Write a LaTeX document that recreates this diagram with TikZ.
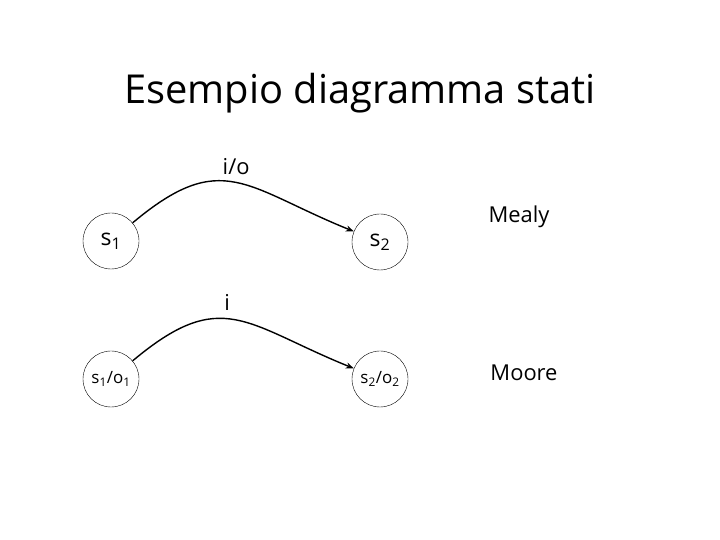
\documentclass[tikz,border=0pt]{standalone}
\usepackage{fontspec}
\setmainfont{Open Sans}
\usetikzlibrary{arrows.meta,positioning}
\tikzset{>=Stealth}

\begin{document}
\begin{tikzpicture}[
    x=1bp, y=1bp,
    state/.style={draw, thin, circle, minimum size=56bp, inner sep=0pt,
                  font=\fontsize{23}{27}\selectfont},
    smallstate/.style={draw, thin, circle, minimum size=56bp, inner sep=0pt,
                       font=\fontsize{17}{20}\selectfont},
    lbl/.style={font=\fontsize{22}{26}\selectfont},
    arr/.style={->, line width=1.4pt, >={Stealth[length=8bp,width=6bp]}}
  ]
    \useasboundingbox (0,0) rectangle (720,540);
    \node[font=\fontsize{40}{48}\selectfont] (title) at (360,447) {Esempio diagramma stati};

    % Mealy
    \node[state] (s1) at (111,299) {s\textsubscript{1}};
    \node[state] (s2) at (380,298) {s\textsubscript{2}};
    \node[lbl] (mealy) at (519,323) {Mealy};
    \draw[arr] (s1) to[out=40, in=158, looseness=1.35] node[lbl, above=4bp, pos=0.5] {i/o} (s2);

    % Moore
    \node[smallstate] (s1o1) at (111,161) {s\textsubscript{1}/o\textsubscript{1}};
    \node[smallstate] (s2o2) at (380,161) {s\textsubscript{2}/o\textsubscript{2}};
    \node[lbl] (moore) at (524,167) {Moore};
    \draw[arr] (s1o1) to[out=40, in=158, looseness=1.35] node[lbl, above=4bp, pos=0.45] {i} (s2o2);
\end{tikzpicture}
\end{document}
